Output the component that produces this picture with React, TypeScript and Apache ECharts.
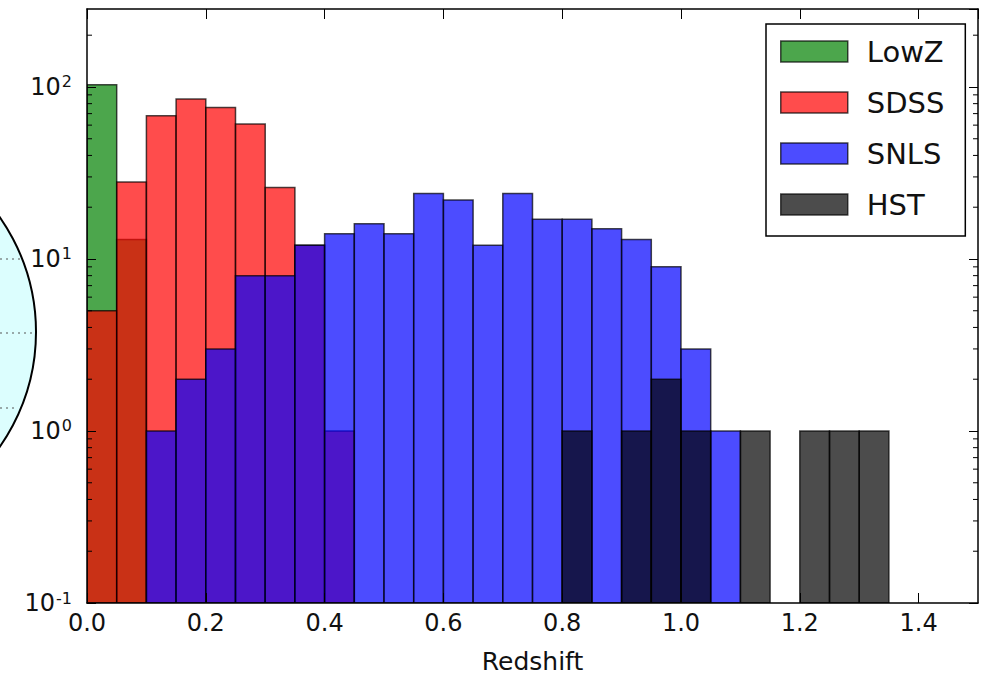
import React, { useEffect, useRef } from 'react';
import * as echarts from 'echarts';

// Histogram bins (lower edges), width 0.05
const binStarts = [0.0, 0.05, 0.1, 0.15, 0.2, 0.25, 0.3, 0.35, 0.4, 0.45, 0.5, 0.55, 0.6, 0.65, 0.7, 0.75, 0.8, 0.85, 0.9, 0.95, 1.0, 1.05, 1.1, 1.15, 1.2, 1.25, 1.3];
const binWidth = 0.05;

const lowZ = [103, 13, 0, 0, 0, 0, 0, 0, 0, 0, 0, 0, 0, 0, 0, 0, 0, 0, 0, 0, 0, 0, 0, 0, 0, 0, 0];
const sdss = [5, 28, 68, 85, 76, 61, 26, 12, 1, 0, 0, 0, 0, 0, 0, 0, 0, 0, 0, 0, 0, 0, 0, 0, 0, 0, 0];
const snls = [0, 0, 1, 2, 3, 8, 8, 12, 14, 16, 14, 24, 22, 12, 24, 17, 17, 15, 13, 9, 3, 1, 0, 0, 0, 0, 0];
const hst = [0, 0, 0, 0, 0, 0, 0, 0, 0, 0, 0, 0, 0, 0, 0, 0, 1, 0, 1, 2, 1, 0, 1, 0, 1, 1, 1];

const seriesNames = ['LowZ', 'SDSS', 'SNLS', 'HST'];
const xTickLabels = ['0.0', '0.2', '0.4', '0.6', '0.8', '1.0', '1.2', '1.4'];

const X_MIN = 0;
const X_MAX = 1.5;
const Y_MIN = 0.1;
const Y_MAX = 284;

const EDGE = 'rgba(0,0,0,0.7)';
const FILLS = ['rgba(0,128,0,0.7)', 'rgba(255,0,0,0.7)', 'rgba(0,0,255,0.7)', 'rgba(0,0,0,0.7)'];
const FONT = '"DejaVu Sans", "Bitstream Vera Sans", sans-serif';

function histSeries(name: string, counts: number[], fill: string) {
  const data: number[][] = [];
  counts.forEach((c, i) => {
    if (c > 0) data.push([binStarts[i], binStarts[i] + binWidth, c]);
  });
  return {
    type: 'custom',
    name,
    data,
    encode: { x: [0, 1], y: 2 },
    clip: true,
    itemStyle: { color: fill, borderColor: EDGE, borderWidth: 1.5 },
    renderItem: (params: any, api: any) => {
      const p0 = api.coord([api.value(0), api.value(2)]);
      const p1 = api.coord([api.value(1), Y_MIN]);
      return {
        type: 'rect',
        shape: { x: p0[0], y: p0[1], width: p1[0] - p0[0], height: p1[1] - p0[1] },
        style: { fill, stroke: EDGE, lineWidth: 1.5 },
      };
    },
  };
}

// minor log ticks (axis decoration)
const minorVals: number[] = [];
[0.1, 1, 10, 100].forEach((d) => {
  for (let k = 2; k <= 9; k++) {
    const v = +(k * d).toPrecision(3);
    if (v < Y_MAX) minorVals.push(v);
  }
});

const yLabel = (v: number) => {
  const lg = Math.log10(v);
  const e = Math.round(lg);
  if (Math.abs(lg - e) > 1e-6) return '';
  return `{b|10}{s|${e}}`;
};

const xLabel = (v: number) => {
  const idx = Math.round(v / 0.2);
  if (Math.abs(v - idx * 0.2) > 1e-6) return '';
  return xTickLabels[idx] ?? '';
};

export default function App() {
  const ref = useRef<HTMLDivElement>(null);
  useEffect(() => {
    const chart = echarts.init(ref.current!, null, { renderer: 'svg' });
    const tickStyle = { color: '#000', width: 1 };
    const option: any = {
      animation: false,
      backgroundColor: '#fff',
      textStyle: { fontFamily: FONT },
      grid: { left: 87, right: 8, top: 9, bottom: 77, containLabel: false },
      xAxis: [
        {
          type: 'value', min: X_MIN, max: X_MAX, interval: 0.2, position: 'bottom', z: 10,
          name: 'Redshift', nameLocation: 'middle', nameGap: 46,
          nameTextStyle: { fontSize: 25, color: '#111', fontFamily: FONT },
          axisLine: { show: true, onZero: false, lineStyle: { color: '#000', width: 1.5 } },
          axisTick: { show: true, inside: true, length: 10, lineStyle: tickStyle },
          axisLabel: { show: true, formatter: xLabel, fontSize: 24, color: '#111', margin: 8, fontFamily: FONT, showMaxLabel: false },
          splitLine: { show: false },
        },
        {
          type: 'value', min: X_MIN, max: X_MAX, interval: 0.2, position: 'top', z: 10,
          axisLine: { show: true, onZero: false, lineStyle: { color: '#000', width: 1.5 } },
          axisTick: { show: true, inside: true, length: 10, lineStyle: tickStyle },
          axisLabel: { show: false },
          splitLine: { show: false },
        },
      ],
      yAxis: [
        {
          type: 'log', min: Y_MIN, max: Y_MAX, logBase: 10, position: 'left', z: 10,
          axisLine: { show: true, onZero: false, lineStyle: { color: '#000', width: 1.5 } },
          axisTick: { show: true, inside: true, length: 9, lineStyle: tickStyle },
          axisLabel: {
            show: true, formatter: yLabel, margin: 15, showMaxLabel: false,
            rich: {
              b: { fontSize: 24, color: '#111', fontFamily: FONT, lineHeight: 26 },
              s: { fontSize: 16, color: '#111', fontFamily: FONT, verticalAlign: 'top', lineHeight: 16, padding: [0, 0, 0, 1] },
            },
          },
          splitLine: { show: false },
        },
        {
          type: 'log', min: Y_MIN, max: Y_MAX, logBase: 10, position: 'right', z: 10,
          axisLine: { show: true, onZero: false, lineStyle: { color: '#000', width: 1.5 } },
          axisTick: { show: true, inside: true, length: 9, lineStyle: tickStyle },
          axisLabel: { show: false },
          splitLine: { show: false },
        },
      ],
      legend: {
        show: true,
        orient: 'vertical',
        left: 766,
        top: 24,
        padding: [13, 21, 17, 14],
        itemGap: 22,
        itemWidth: 67,
        itemHeight: 21,
        selectedMode: false,
        backgroundColor: '#fff',
        borderColor: '#000',
        borderWidth: 1.5,
        borderRadius: 0,
        itemStyle: { borderColor: EDGE, borderWidth: 1.5 },
        textStyle: { fontSize: 29, color: '#111', fontFamily: FONT, lineHeight: 29, padding: [0, 0, 0, 14] },
        data: seriesNames.map((n) => ({ name: n, icon: 'rect' })),
        z: 20,
      },
      series: [
        histSeries(seriesNames[0], lowZ, FILLS[0]),
        histSeries(seriesNames[1], sdss, FILLS[1]),
        histSeries(seriesNames[2], snls, FILLS[2]),
        histSeries(seriesNames[3], hst, FILLS[3]),
        {
          type: 'custom',
          name: 'minorTicks',
          silent: true,
          data: minorVals.map((v) => [v]),
          encode: { y: 0 },
          z: 11,
          renderItem: (params: any, api: any) => {
            const pl = api.coord([X_MIN, api.value(0)]);
            const pr = api.coord([X_MAX, api.value(0)]);
            return {
              type: 'group',
              children: [
                { type: 'line', shape: { x1: pl[0], y1: pl[1], x2: pl[0] + 5, y2: pl[1] }, style: { stroke: '#000', lineWidth: 1 } },
                { type: 'line', shape: { x1: pr[0], y1: pr[1], x2: pr[0] - 5, y2: pr[1] }, style: { stroke: '#000', lineWidth: 1 } },
              ],
            };
          },
        },
      ],
      graphic: [
        {
          type: 'circle', z: -1,
          shape: { cx: -164, cy: 332, r: 200 },
          style: { fill: '#dcfefe', stroke: '#000', lineWidth: 2 },
        },
        { type: 'line', shape: { x1: 0, y1: 259, x2: 20, y2: 259 }, style: { stroke: '#555', lineWidth: 1, lineDash: [2, 4] } },
        { type: 'line', shape: { x1: 0, y1: 333, x2: 33, y2: 333 }, style: { stroke: '#555', lineWidth: 1, lineDash: [2, 4] } },
        { type: 'line', shape: { x1: 0, y1: 408, x2: 18, y2: 408 }, style: { stroke: '#555', lineWidth: 1, lineDash: [2, 4] } },
      ],
    };
    chart.setOption(option);
    return () => chart.dispose();
  }, []);
  return <div ref={ref} style={{ position: 'fixed', left: 0, top: 0, width: 986, height: 680, background: '#fff' }} />;
}
